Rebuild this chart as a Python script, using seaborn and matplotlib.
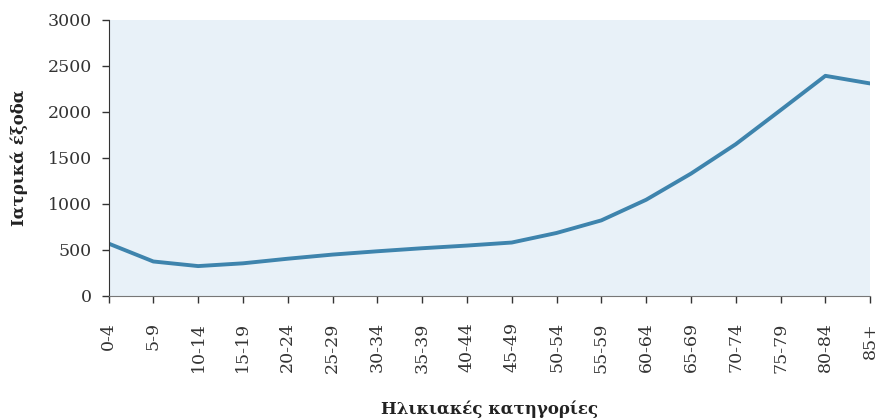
import matplotlib
matplotlib.use("Agg")
import matplotlib.pyplot as plt
import seaborn as sns
import pandas as pd

# age groups and medical expenses
age_groups = ["0-4", "5-9", "10-14", "15-19", "20-24", "25-29", "30-34", "35-39",
              "40-44", "45-49", "50-54", "55-59", "60-64", "65-69", "70-74",
              "75-79", "80-84", "85+"]
expenses = [570, 375, 325, 355, 405, 450, 486, 519, 548, 581, 685, 822,
            1046, 1330, 1650, 2020, 2393, 2310]

df = pd.DataFrame({"pos": range(len(age_groups)), "value": expenses})

sns.set_style("ticks")
plt.rcParams["font.family"] = ["DejaVu Serif"]

fig = plt.figure(figsize=(8.78, 4.19), dpi=100)
ax = fig.add_axes([0.1236, 0.2936, 0.8675, 0.6587])
ax.set_facecolor("#e8f1f8")

sns.lineplot(data=df, x="pos", y="value", ax=ax, color="#3e84ad", linewidth=2.8)

ax.set_xlim(0, len(age_groups) - 1)
ax.set_ylim(0, 3000)
ax.set_yticks(range(0, 3001, 500))
ax.set_xticks(range(len(age_groups)))
ax.set_xticklabels(age_groups, rotation=90)
ax.tick_params(axis="both", labelsize=12.5, colors="#333333", length=5, width=1)
ax.tick_params(axis="x", pad=14)
ax.tick_params(axis="y", pad=7)

for s in ["top", "right"]:
    ax.spines[s].set_visible(False)
ax.spines["left"].set_color("#333333")
ax.spines["bottom"].set_color("#777777")

ax.set_ylabel("Ιατρικά έξοδα", fontsize=12, fontweight="bold", color="#222222", labelpad=14)
ax.set_xlabel("Ηλικιακές κατηγορίες", fontsize=12, fontweight="bold", color="#222222", labelpad=20)

fig.savefig("out.png", dpi=100)
